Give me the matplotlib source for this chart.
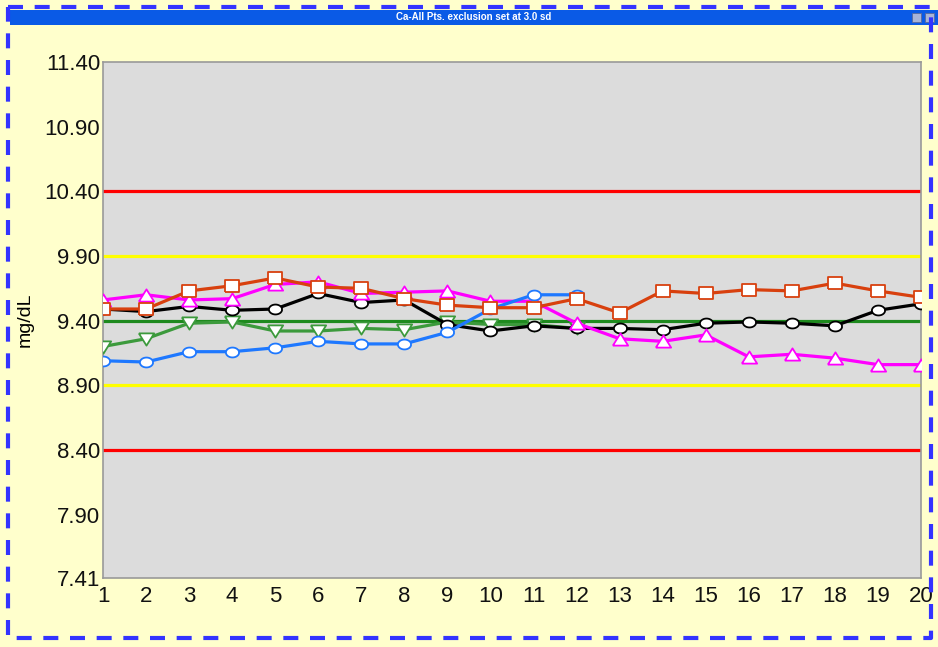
import numpy as np
import matplotlib.pyplot as plt
import matplotlib.patches as mpatches
import matplotlib.lines as mlines
from matplotlib.path import Path

# run numbers and values (mg/dL)
runs = list(range(1, 21))
blue_vals = [9.09, 9.08, 9.16, 9.16, 9.19, 9.24, 9.22, 9.22, 9.31, 9.49, 9.60, 9.60]
green_vals = [9.20, 9.26, 9.38, 9.39, 9.32, 9.32, 9.34, 9.33, 9.39, 9.37, 9.37, 9.34]
black_vals = [9.49, 9.47, 9.51, 9.48, 9.49, 9.61, 9.54, 9.56, 9.37, 9.32,
              9.36, 9.34, 9.34, 9.33, 9.38, 9.39, 9.38, 9.36, 9.48, 9.53]
red_vals = [9.49, 9.49, 9.63, 9.67, 9.73, 9.66, 9.65, 9.57, 9.52, 9.50,
            9.50, 9.57, 9.46, 9.63, 9.61, 9.64, 9.63, 9.69, 9.63, 9.58]
magenta_vals = [9.56, 9.60, 9.56, 9.57, 9.68, 9.70, 9.61, 9.62, 9.63, 9.55,
                9.55, 9.38, 9.26, 9.24, 9.29, 9.12, 9.14, 9.11, 9.06, 9.06]

mean_val = 9.40
sd2_lines = [9.90, 8.90]
sd3_lines = [10.40, 8.40]
ytick_vals = [7.41, 7.90, 8.40, 8.90, 9.40, 9.90, 10.40, 10.90, 11.40]
ytick_labels = ['7.41', '7.90', '8.40', '8.90', '9.40', '9.90', '10.40', '10.90', '11.40']
title = 'Ca-All Pts. exclusion set at 3.0 sd'

plt.rcParams['font.family'] = ['Liberation Sans', 'DejaVu Sans']

# slightly flattened markers like the original app draws
t = np.linspace(0, 2 * np.pi, 40)
ellipse = Path(np.column_stack([np.cos(t), 0.75 * np.sin(t)]))
square = Path([(-1, -0.85), (1, -0.85), (1, 0.85), (-1, 0.85), (-1, -0.85)])
tri_up = Path([(-1, -0.8), (1, -0.8), (0, 0.8), (-1, -0.8)])
tri_dn = Path([(-1, 0.8), (1, 0.8), (0, -0.8), (-1, 0.8)])

bg = '#FFFFCC'
fig = plt.figure(figsize=(9.38, 6.47), dpi=100, facecolor=bg)
ax = fig.add_axes([103 / 938, 1 - 578 / 647, 818 / 938, 516 / 647])
ax.set_facecolor('#DCDCDC')

# control limit lines
for v in sd3_lines:
    ax.axhline(v, color='#FF0000', lw=2.3, zorder=1)
for v in sd2_lines:
    ax.axhline(v, color='#FFFF00', lw=2.3, zorder=1)
ax.axhline(mean_val, color='#1E8A1E', lw=2.3, zorder=1)

kw = dict(lw=2.3, markerfacecolor='white', markeredgewidth=1.3)
ax.plot(runs[:len(green_vals)], green_vals, color='#3C9A3C', marker=tri_dn, markersize=11, zorder=3, **kw)
ax.plot(runs, black_vals, color='#000000', marker=ellipse, markersize=9.5, zorder=3, **kw)
ax.plot(runs, magenta_vals, color='#FF00FF', marker=tri_up, markersize=11, zorder=3, **kw)
ax.plot(runs[:len(blue_vals)], blue_vals, color='#1E78FF', marker=ellipse, markersize=9.5, zorder=4, **kw)
ax.plot(runs, red_vals, color='#D8400E', marker=square, markersize=10, zorder=5, **kw)

ax.set_xlim(1, 20)
ax.set_ylim(7.41, 11.40)
ax.set_xticks(runs)
ax.set_yticks(ytick_vals)
ax.set_yticklabels(ytick_labels)
ax.tick_params(length=0, labelsize=16, pad=6, labelcolor='#111111')
ax.tick_params(axis='y', pad=2)
for s in ax.spines.values():
    s.set_color('#999999')
    s.set_linewidth(1.2)
ax.set_ylabel('mg/dL', fontsize=14, labelpad=8)

# window title bar
bar = mpatches.Rectangle((10 / 938, 1 - 25 / 647), 928 / 938, 15 / 647,
                         transform=fig.transFigure, facecolor='#0A5AE6',
                         edgecolor='none', zorder=0)
fig.patches.append(bar)
fig.text(0.505, 1 - 17.5 / 647, title, color='white', fontsize=7, fontweight='bold',
         ha='center', va='center')
for x0 in (912, 925):
    btn = mpatches.Rectangle((x0 / 938, 1 - 22 / 647), 9 / 938, 9 / 647,
                             transform=fig.transFigure, facecolor='#A8B4D8',
                             edgecolor='#5A6A9A', lw=0.6, zorder=1)
    fig.patches.append(btn)

# dashed blue frame
frame = mlines.Line2D([7.5 / 938, 931 / 938, 931 / 938, 7.5 / 938, 7.5 / 938],
                      [1 - 6.5 / 647, 1 - 6.5 / 647, 1 - 638 / 647, 1 - 638 / 647, 1 - 6.5 / 647],
                      transform=fig.transFigure, color='#3333FF', lw=3,
                      linestyle=(0, (3.6, 2.8)))
fig.lines.append(frame)

fig.savefig('out.png', dpi=100, facecolor=bg)
